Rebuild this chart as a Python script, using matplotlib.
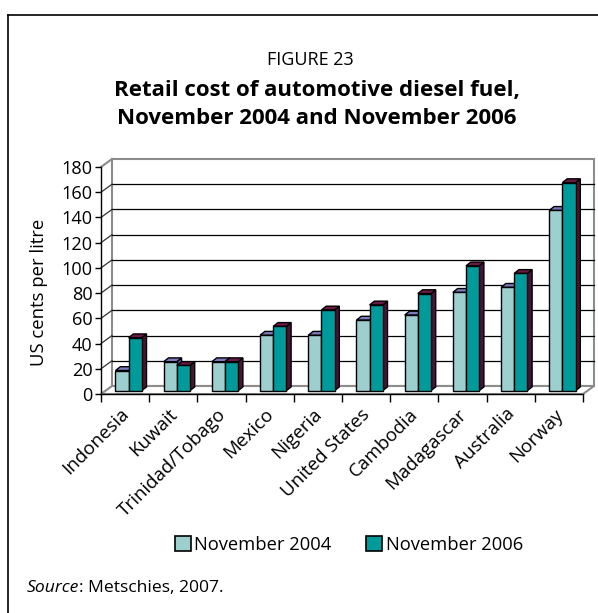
import matplotlib
matplotlib.use("Agg")
import matplotlib.pyplot as plt
from matplotlib.patches import Polygon, Rectangle, Patch
from matplotlib.lines import Line2D
from matplotlib.transforms import ScaledTranslation

countries = ["Indonesia", "Kuwait", "Trinidad/Tobago", "Mexico", "Nigeria",
             "United States", "Cambodia", "Madagascar", "Australia", "Norway"]
nov_2004 = [16, 23, 23, 44, 44, 56, 60, 78, 82, 143]
nov_2006 = [42, 20, 23, 51, 64, 68, 77, 99, 93, 165]
series_names = ["November 2004", "November 2006"]
y_ticks = list(range(0, 181, 20))

front_cols = ["#9DCFCF", "#009A9A"]
top_cols = ["#7A7ABD", "#6B1A45"]
side_cols = ["#5C5C9E", "#4A1535"]

plt.rcParams["font.family"] = ["Open Sans", "DejaVu Sans"]

W, H = 598, 613
fig = plt.figure(figsize=(W / 100, H / 100), dpi=100)

# outer frame (left + top edges only visible)
fig.add_artist(Line2D([8 / W, 8 / W], [0, 1 - 15 / H], color="black", lw=1.2))
fig.add_artist(Line2D([8 / W, 1], [1 - 15 / H, 1 - 15 / H], color="black", lw=1.2))

fig.text(310 / W, 1 - 60 / H, "FIGURE 23", ha="center", va="center", fontsize=13)
fig.text(317 / W, 1 - 90.5 / H, "Retail cost of automotive diesel fuel,",
         ha="center", va="center", fontsize=16, fontweight="bold")
fig.text(317 / W, 1 - 119 / H, "November 2004 and November 2006",
         ha="center", va="center", fontsize=16, fontweight="bold")

ax = fig.add_axes([101 / W, 1 - 394 / H, 482 / W, 227 / H])
n = len(countries)
ax.set_xlim(0, n)
ax.set_ylim(0, 180)
ax.patch.set_visible(False)
for side in ["top", "right"]:
    ax.spines[side].set_visible(False)
for side in ["left", "bottom"]:
    ax.spines[side].set_color("black")
    ax.spines[side].set_linewidth(1)
    ax.spines[side].set_zorder(6)

# pixel -> data conversion for the pseudo-3D depth
p0 = ax.transData.transform((0, 0))
p1 = ax.transData.transform((1, 1))
sx, sy = p1[0] - p0[0], p1[1] - p0[1]


def px(dx, dy):
    return dx / sx, dy / sy


wx, wy = px(11, 8)      # wall depth
fx, fy = px(3.5, 3.3)   # bar front inset
bx, by = px(4.8, 3.8)   # bar depth
bw = 0.272              # bar width

wall_col = "#8C8C8C"
ax.add_patch(Rectangle((wx, wy), n, 180, fc="white", ec=wall_col, lw=1.5,
                       clip_on=False, zorder=1))
ax.add_patch(Polygon([(0, 0), (n, 0), (n + wx, wy), (wx, wy)], closed=True,
                     fc="white", ec=wall_col, lw=1.5, clip_on=False, zorder=1))
ax.plot([0, wx], [180, 180 + wy], color=wall_col, lw=1.5, clip_on=False, zorder=1)
for y in y_ticks[1:-1]:
    ax.plot([wx, n + wx], [y + wy, y + wy], color="black", lw=0.9,
            clip_on=False, zorder=2)
    ax.plot([0, wx], [y, y + wy], color="#333333", lw=0.9, clip_on=False, zorder=2)

for i in range(n):
    for j, vals in enumerate([nov_2004, nov_2006]):
        h = vals[i]
        x0 = i + 0.5 - bw + j * bw + fx
        y0 = fy
        kw = dict(ec="black", lw=1, clip_on=False, zorder=3 + 0.01 * i + 0.001 * j)
        ax.add_patch(Polygon([(x0 + bw, y0), (x0 + bw + bx, y0 + by),
                              (x0 + bw + bx, y0 + h + by), (x0 + bw, y0 + h)],
                             closed=True, fc=side_cols[j], **kw))
        ax.add_patch(Polygon([(x0, y0 + h), (x0 + bw, y0 + h),
                              (x0 + bw + bx, y0 + h + by), (x0 + bx, y0 + h + by)],
                             closed=True, fc=top_cols[j], **kw))
        ax.add_patch(Rectangle((x0, y0), bw, h, fc=front_cols[j], **kw))

ax.set_yticks(y_ticks)
ax.tick_params(axis="y", direction="out", length=4, width=1, pad=2, labelsize=13.1)
ax.set_xticks(range(n + 1))
ax.set_xticklabels([])
ax.set_xticks([i + 0.5 for i in range(n)], minor=True)
ax.set_xticklabels(countries, minor=True, rotation=45, ha="right",
                   rotation_mode="anchor", fontsize=13.5)
ax.tick_params(axis="x", which="major", direction="out", length=6, width=1)
ax.tick_params(axis="x", which="minor", length=0, pad=8)
shift = ScaledTranslation(-5 / 100, 0, fig.dpi_scale_trans)
for lab in ax.get_xticklabels(minor=True):
    lab.set_transform(lab.get_transform() + shift)

fig.text(39 / W, 1 - 292 / H, "US cents per litre", rotation=90,
         ha="center", va="center", fontsize=13.3)

handles = [Patch(fc=front_cols[j], ec="black", lw=1.2) for j in range(2)]
fig.legend(handles, series_names, loc="center", bbox_to_anchor=(349 / W, 1 - 545 / H),
           ncol=2, frameon=False, fontsize=13.2, handlelength=0.85, handleheight=0.85,
           handletextpad=0.2, columnspacing=1.9)

renderer = fig.canvas.get_renderer()
s1 = fig.text(27 / W, 1 - 588 / H, "Source", ha="left", va="center",
              fontsize=12.6, style="italic")
x_end = s1.get_window_extent(renderer=renderer).x1
fig.text(x_end / W, 1 - 588 / H, ": Metschies, 2007.", ha="left", va="center",
         fontsize=12.6)
fig.savefig("out.png", dpi=100)
